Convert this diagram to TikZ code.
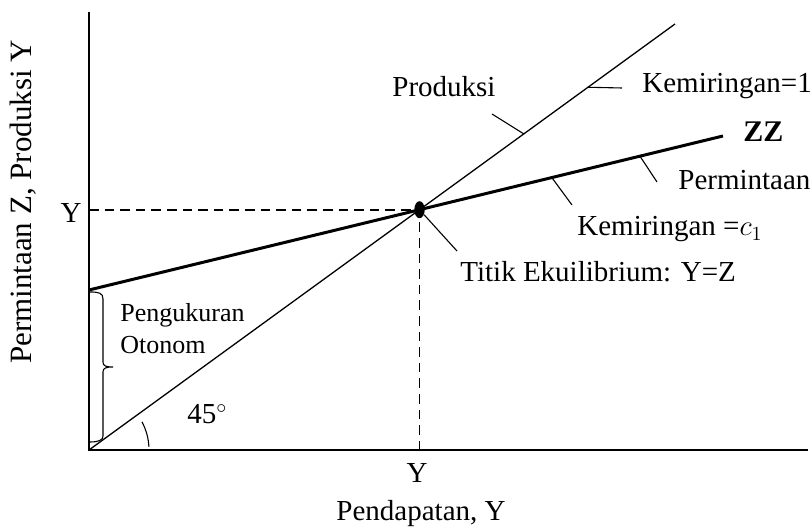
\documentclass[tikz,border=0pt]{standalone}
\usepackage{fontspec}
\setmainfont{Liberation Serif}
\usetikzlibrary{calc,shapes.geometric}
\definecolor{ink}{HTML}{000000}
\tikzset{
  lbl/.style={font=\fontsize{14.5}{17}\selectfont,inner sep=0pt,text=ink},
  smalllbl/.style={lbl,font=\fontsize{13}{16}\selectfont,align=left},
  axisline/.style={line width=0.7pt,draw=ink},
  supply/.style={line width=0.65pt,draw=ink},
  demand/.style={line width=1.5pt,draw=ink},
  guide/.style={line width=0.85pt,draw=ink,dash pattern=on 4.8pt off 3pt},
  pointer/.style={line width=0.55pt,draw=ink},
  eqdot/.style={ellipse,fill=ink,inner sep=0pt,minimum width=5.2pt,minimum height=8.5pt}
}
\begin{document}
\begin{tikzpicture}[x=0.5pt,y=-0.5pt]
  \useasboundingbox (0,0) rectangle (811,528);
  \coordinate (O) at (89,450);
  \coordinate (ytop) at (89,12);
  \coordinate (xend) at (808,450);
  \coordinate (prodEnd) at (675,24);
  \coordinate (zzStart) at (89,290);
  \coordinate (zzEnd) at (723,136);
  \coordinate (E) at (intersection of O--prodEnd and zzStart--zzEnd);

  \draw[axisline] (ytop) -- (O) -- (xend);
  \draw[guide] (O |- E) -- (E) -- (E |- O);
  \draw[supply] (O) -- (prodEnd);
  \draw[demand] (zzStart) -- (zzEnd);
  \node[eqdot] (eq) at (E) {};

  \coordinate (prodTip) at (492,114);
  \coordinate (slope1Tip) at (622,88);
  \coordinate (slopeCTip) at (572,205);
  \coordinate (demTip) at (657,182);
  \coordinate (eqTip) at (457,251);
  \draw[pointer] (prodTip) -- ($(O)!0.742!(prodEnd)$);
  \draw[pointer] ($(O)!0.8515!(prodEnd)$) -- (slope1Tip);
  \draw[pointer] ($(zzStart)!0.73!(zzEnd)$) -- (slopeCTip);
  \draw[pointer] ($(zzStart)!0.869!(zzEnd)$) -- (demTip);
  \draw[pointer] (eq) -- (eqTip);
  \draw[pointer] (90,292) .. controls (99,292) and (103,293) .. (103,299) -- (103,362)
    .. controls (103,366) and (106,367) .. (113,367) .. controls (106,367) and (103,368) .. (103,372)
    -- (103,436) .. controls (103,440) and (99,442) .. (90,442);
  \draw[pointer] (O) ++(-3:60) arc[start angle=-3,end angle=-28,radius=60];

  \node[lbl,anchor=base west] (prodLbl) at (392,97) {Produksi};
  \node[lbl,anchor=base west] (slope1Lbl) at (642,93) {Kemiringan=1};
  \node[lbl,anchor=base west,font=\fontsize{15}{17}\selectfont\bfseries] (zzLbl) at (743,142) {ZZ};
  \node[lbl,anchor=base west] (demLbl) at (678,190) {Permintaan};
  \node[lbl,anchor=base west] (slopeCLbl) at (577,236) {Kemiringan =$c_1$};
  \node[lbl,anchor=base west] (eqLbl) at (460,282) {Titik Ekuilibrium: Y=Z};
  \node[lbl,anchor=base east] (yLbl) at (82,223) {Y};
  \node[lbl,anchor=base] (xLbl) at (417,483) {Y};
  \node[lbl,anchor=base] (xTitle) at (421,521) {Pendapatan, Y};
  \node[lbl,rotate=90,font=\fontsize{15.5}{18}\selectfont] (yTitle) at (23,202) {Permintaan Z, Produksi Y};
  \node[smalllbl,anchor=north west] (autoLbl) at (120,303) {Pengukuran\\Otonom};
  \node[lbl,anchor=base west] (angLbl) at (187,424) {45$^{\circ}$};
\end{tikzpicture}
\end{document}
